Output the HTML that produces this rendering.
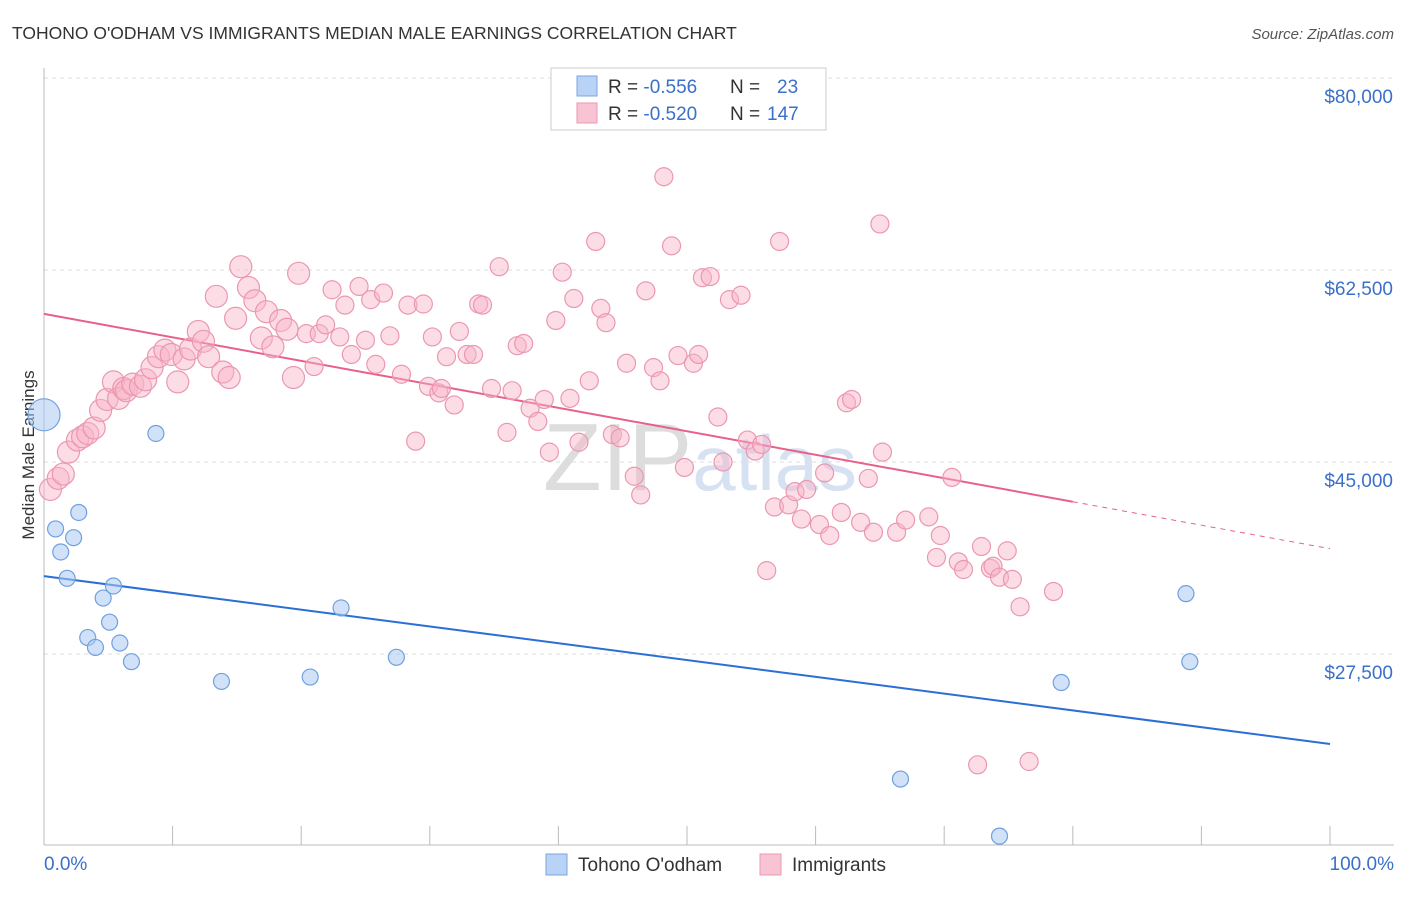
<!DOCTYPE html>
<html><head><meta charset="utf-8"><style>
body{margin:0;background:#fff;font-family:"Liberation Sans",sans-serif;}
svg text{font-family:"Liberation Sans",sans-serif;}
</style></head><body>
<svg id="chart" width="1406" height="892" viewBox="0 0 1406 892" xmlns="http://www.w3.org/2000/svg">
<text x="12" y="39" font-size="17.5" fill="#333">TOHONO O'ODHAM VS IMMIGRANTS MEDIAN MALE EARNINGS CORRELATION CHART</text>
<text x="1394" y="39" font-size="15" fill="#555" text-anchor="end" font-style="italic">Source: ZipAtlas.com</text>
<text transform="translate(34,455) rotate(-90)" font-size="17" fill="#333" text-anchor="middle">Median Male Earnings</text>
<text x="700" y="490" font-size="96" fill="#ddd" text-anchor="middle" font-family="Liberation Serif">ZIP<tspan fill="#d6e2f2" font-family="Liberation Sans" font-size="78">atlas</tspan></text>
<g id="grid"></g><g id="axes"></g><g id="lines"></g><g id="pts"></g>
<g>
<rect x="551" y="68" width="275" height="62" fill="#fff" stroke="#ccc"/>
<rect x="577" y="76" width="20" height="20" fill="#b8d3f5" stroke="#7aa6e0"/>
<rect x="577" y="103" width="20" height="20" fill="#f8c4d4" stroke="#eb97b2"/>
<text x="608" y="93" font-size="19" fill="#333">R = <tspan fill="#3a70c8">-0.556</tspan><tspan x="730">N = </tspan><tspan x="777" fill="#3a70c8">23</tspan></text>
<text x="608" y="120" font-size="19" fill="#333">R = <tspan fill="#3a70c8">-0.520</tspan><tspan x="730">N = </tspan><tspan x="767" fill="#3a70c8">147</tspan></text>
</g>
<g>
<rect x="546" y="854" width="21" height="21" fill="#b8d3f5" stroke="#7aa6e0"/>
<text x="578" y="871" font-size="19" fill="#333">Tohono O'odham</text>
<rect x="760" y="854" width="21" height="21" fill="#f8c4d4" stroke="#eb97b2"/>
<text x="792" y="871" font-size="19" fill="#333">Immigrants</text>
</g>
</svg>
<script>
const yTicks=[27500,45000,62500,80000];
const yTickLabels=["$27,500","$45,000","$62,500","$80,000"];
const xTickLabels=["0.0%","100.0%"];
const blueX=[0,0.9,1.3,1.8,2.3,2.7,3.4,4.0,4.6,5.1,5.4,5.9,6.8,8.7,13.8,20.7,23.1,27.4,66.6,74.3,79.1,88.8,89.1];
const blueY=[49300,38900,36800,34400,38100,40400,29000,28100,32600,30400,33700,28500,26800,47600,25000,25400,31700,27200,16100,10900,24900,33000,26800];
const pinkX=[0.5,1.1,1.5,1.9,2.6,3.0,3.4,3.9,4.4,4.9,5.4,5.8,6.2,6.4,6.9,7.5,7.9,8.4,8.9,9.4,9.9,10.4,10.9,11.4,12.0,12.4,12.8,13.4,13.9,14.4,14.9,15.3,15.9,16.4,16.9,17.3,17.8,18.4,18.9,19.4,19.8,20.4,21.0,21.4,21.9,22.4,23.0,23.4,23.9,24.5,25.0,25.4,25.8,26.4,26.9,27.8,28.3,28.9,29.5,29.9,30.2,30.7,30.9,31.3,31.9,32.3,32.9,33.4,33.8,34.1,34.8,35.4,36.0,36.4,36.8,37.3,37.8,38.4,38.9,39.3,39.8,40.3,40.9,41.2,41.6,42.4,42.9,43.3,43.7,44.2,44.8,45.3,45.9,46.4,46.8,47.4,47.9,48.2,48.8,49.8,49.3,50.5,50.9,51.2,51.8,52.4,52.8,53.3,54.2,54.7,55.3,55.8,56.2,56.8,57.2,57.9,58.4,58.9,59.3,60.3,60.7,61.1,62.0,62.4,62.8,63.5,64.1,64.5,65.0,65.2,66.3,67.0,68.8,69.4,69.7,70.6,71.1,71.5,72.6,72.9,73.6,73.8,74.3,74.9,75.3,75.9,76.6,78.5];
const pinkY=[42500,43500,43900,45900,47000,47300,47600,48100,49700,50700,52300,50800,51700,51500,52100,51900,52500,53600,54600,55200,54800,52300,54400,55300,56900,56000,54600,60100,53200,52700,58100,62800,60900,59700,56300,58700,55500,57900,57100,52700,62200,56700,53700,56700,57500,60700,56400,59300,54800,61000,56100,59800,53900,60400,56500,53000,59300,46900,59400,51900,56400,51300,51700,54600,50200,56900,54800,54800,59400,59300,51700,62800,47700,51500,55600,55800,49900,48700,50700,45900,57900,62300,50800,59900,46800,52400,65100,59000,57700,47500,47200,54000,43700,42000,60600,53600,52400,71000,64700,44500,54700,54000,54800,61800,61900,49100,45000,59800,60200,47000,46000,46600,35100,40900,65100,41100,42300,39800,42500,39300,44000,38300,40400,50400,50700,39500,43500,38600,66700,45900,38600,39700,40000,36300,38300,43600,35900,35200,17400,37300,35300,35500,34500,36900,34300,31800,17700,33200];
const blueLine=[34600,19300];
const pinkLine=[58500,37100];
const pinkSolidEnd=80;
const NS="http://www.w3.org/2000/svg";
const X=p=>44+p*12.86;
const Y=v=>654-(v-27500)*192/17500;
function mk(t,a,parent){const e=document.createElementNS(NS,t);for(const k in a)e.setAttribute(k,a[k]);parent.appendChild(e);return e;}
const grid=document.getElementById('grid'),axes=document.getElementById('axes'),lines=document.getElementById('lines'),pts=document.getElementById('pts');
yTicks.forEach((v,i)=>{
 const g=mk('line',{x1:44,x2:1394,y1:Y(v),y2:Y(v),stroke:'#ddd','stroke-dasharray':'4,4'},grid);
 
 
 const t=mk('text',{x:1393,y:Y(v)+25,'font-size':19,fill:'#3a70c8','text-anchor':'end'},axes);
 t.textContent=yTickLabels[i];
 
 
});
const ax=mk('line',{x1:44,x2:44,y1:68,y2:845,stroke:'#bbb'},axes);


const bx=mk('line',{x1:44,x2:1394,y1:845,y2:845,stroke:'#bbb'},axes);


for(let i=0;i<=10;i++){
 const tk=mk('line',{x1:X(i*10),x2:X(i*10),y1:826,y2:845,stroke:'#bbb'},axes);
 
 
}
[[0,'start',44],[1,'end',1394]].forEach(([i,a,x])=>{
 const t=mk('text',{x:x,y:870,'font-size':19,fill:'#3a70c8','text-anchor':a},axes);
 t.textContent=xTickLabels[i];
 
 
});
const bl=mk('line',{x1:X(0),y1:Y(blueLine[0]),x2:X(100),y2:Y(blueLine[1]),stroke:'#2a6fd6','stroke-width':2},lines);


const pm=pinkLine[0]+(pinkLine[1]-pinkLine[0])*pinkSolidEnd/100;
const pl=mk('line',{x1:X(0),y1:Y(pinkLine[0]),x2:X(pinkSolidEnd),y2:Y(pm),stroke:'#e8608a','stroke-width':2},lines);


const pd=mk('line',{x1:X(pinkSolidEnd),y1:Y(pm),x2:X(100),y2:Y(pinkLine[1]),stroke:'#e8608a','stroke-width':1,'stroke-dasharray':'5,5'},lines);


pinkX.forEach((x,i)=>{
 const c=mk('circle',{cx:X(x),cy:Y(pinkY[i]),r:x<20?11:9,fill:'rgba(248,180,200,0.45)',stroke:'#eb97b2','stroke-width':1.2},pts);
 
 
});
blueX.forEach((x,i)=>{
 const c=mk('circle',{cx:X(x),cy:Y(blueY[i]),r:i===0?16:8,fill:'rgba(170,200,242,0.55)',stroke:'#6fa0e0','stroke-width':1.2},pts);
 
 
});
</script>
</body></html>
